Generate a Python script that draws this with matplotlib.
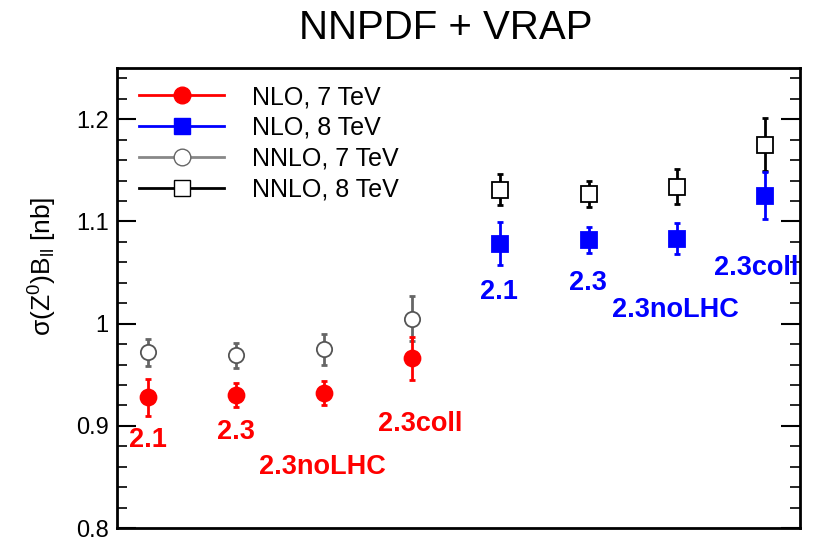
import matplotlib.pyplot as plt
from matplotlib.lines import Line2D
from matplotlib.ticker import MultipleLocator

plt.rcParams['font.family'] = ['Liberation Sans', 'DejaVu Sans']
plt.rcParams['mathtext.default'] = 'regular'

pdf_sets = ["2.1", "2.3", "2.3noLHC", "2.3coll"]

nlo_7 = [0.928, 0.930, 0.932, 0.966]
nlo_7_err = [0.018, 0.012, 0.012, 0.021]
nnlo_7 = [0.972, 0.969, 0.975, 1.005]
nnlo_7_err = [0.013, 0.012, 0.015, 0.022]

nlo_8 = [1.078, 1.082, 1.083, 1.125]
nlo_8_err = [0.021, 0.013, 0.015, 0.023]
nnlo_8 = [1.131, 1.127, 1.134, 1.175]
nnlo_8_err = [0.015, 0.013, 0.017, 0.026]

# where the set names sit (data units)
label_x_7 = [0.0, 1.0, 1.98, 3.09]
label_y_7 = [0.886, 0.894, 0.860, 0.902]
label_x_8 = [3.98, 4.99, 5.99, 6.9]
label_y_8 = [1.031, 1.040, 1.013, 1.054]

x7 = [0, 1, 2, 3]
x8 = [4, 5, 6, 7]

fig = plt.figure(figsize=(8.14, 5.40), dpi=100)
ax = fig.add_axes([0.1437, 0.022, 0.8393, 0.852])

def draw(x, y, err, color, ecolor, marker, face, ms):
    ax.errorbar(x, y, yerr=err, fmt='none', ecolor=ecolor, elinewidth=2,
                capsize=2.5, capthick=2, zorder=2)
    ax.plot(x, y, linestyle='none', marker=marker, markersize=ms,
            markerfacecolor=face, markeredgecolor=color, markeredgewidth=1.3,
            zorder=3)

draw(x7, nnlo_7, nnlo_7_err, '#555555', '#666666', 'o', 'white', 11)
draw(x7, nlo_7, nlo_7_err, 'red', 'red', 'o', 'red', 11.5)
draw(x8, nnlo_8, nnlo_8_err, 'black', 'black', 's', 'white', 11)
draw(x8, nlo_8, nlo_8_err, 'blue', 'blue', 's', 'blue', 11.5)

for xi, yi, name in zip(label_x_7, label_y_7, pdf_sets):
    ax.text(xi, yi, name, color='red', fontsize=19.5, fontweight='bold',
            ha='center', va='center', clip_on=True)
for xi, yi, name in zip(label_x_8, label_y_8, pdf_sets):
    ax.text(xi, yi, name, color='blue', fontsize=19.5, fontweight='bold',
            ha='center', va='center', clip_on=True)

ax.set_xlim(-0.35, 7.4)
ax.set_ylim(0.8, 1.25)
ax.set_xticks([])
ax.yaxis.set_major_locator(MultipleLocator(0.1))
ax.yaxis.set_minor_locator(MultipleLocator(0.02))
ax.set_yticks([0.8, 0.9, 1.0, 1.1, 1.2])
ax.set_yticklabels(['0.8', '0.9', '1', '1.1', '1.2'])
ax.tick_params(axis='y', which='both', direction='in', right=True, labelsize=17,
               pad=6)
ax.tick_params(axis='y', which='major', length=14, width=1.5)
ax.tick_params(axis='y', which='minor', length=7, width=1.2)
for sp in ax.spines.values():
    sp.set_linewidth(2)
    sp.set_zorder(5)

ax.set_ylabel(r'$\sigma(Z^{0})B_{ll}$ [nb]', fontsize=19)
ax.yaxis.set_label_coords(-0.085, 0.57)
fig.text(0.547, 0.948, 'NNPDF + VRAP', fontsize=29, ha='center', va='center')

handles = [
    Line2D([], [], color='red', lw=2, marker='o', markersize=12, markerfacecolor='red'),
    Line2D([], [], color='blue', lw=2, marker='s', markersize=12, markerfacecolor='blue'),
    Line2D([], [], color='#888888', lw=2, marker='o', markersize=12,
           markerfacecolor='white', markeredgecolor='#666666'),
    Line2D([], [], color='black', lw=2, marker='s', markersize=12, markerfacecolor='white'),
]
labels = ['NLO, 7 TeV', 'NLO, 8 TeV', 'NNLO, 7 TeV', 'NNLO, 8 TeV']
ax.legend(handles, labels, loc='upper left', frameon=False, fontsize=18,
          handlelength=3.4, labelspacing=0.27, handletextpad=1.1,
          bbox_to_anchor=(0.0, 1.012))

fig.savefig('out.png', dpi=100)
